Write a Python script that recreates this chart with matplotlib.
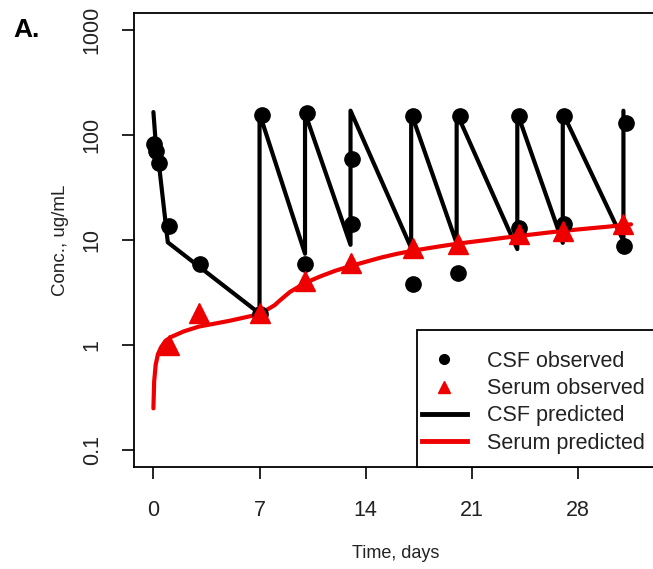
import matplotlib
matplotlib.use("Agg")
import matplotlib.pyplot as plt
from matplotlib.lines import Line2D
from matplotlib.patches import Rectangle

plt.rcParams['font.family'] = ['Liberation Sans', 'DejaVu Sans']

# observed CSF concentrations (day, ug/mL)
csf_obs_day = [0.07, 0.2, 0.4, 1.06, 3.05, 7.0, 7.15, 10.1, 10.0, 13.1, 13.1,
               17.1, 17.1, 20.25, 20.1, 24.1, 24.1, 27.05, 27.05, 31.2, 31.05]
csf_obs_conc = [82, 70, 54, 13.6, 5.9, 1.97, 155, 162, 5.9, 59, 14.2,
                152, 3.8, 152, 4.85, 152, 13, 152, 14.2, 130, 8.8]

# observed serum concentrations
serum_obs_day = [1.06, 3.0, 7.0, 10.0, 13.0, 17.1, 20.1, 24.1, 27.0, 31.0]
serum_obs_conc = [1.0, 2.0, 2.0, 4.1, 6.0, 8.4, 9.2, 11.4, 12.2, 14.2]

# predicted CSF profile
csf_pred_day = [0, 0.15, 0.35, 0.95, 7.0, 7.0, 10.0, 10.0, 13.0, 13.0, 17.0,
                17.0, 20.0, 20.0, 24.0, 24.0, 27.0, 27.0, 31.0, 31.0]
csf_pred_conc = [165, 85, 55, 9.5, 2.0, 160, 7.4, 162, 9.0, 170, 8.4,
                 162, 9.3, 162, 8.2, 162, 9.4, 162, 9.8, 170]

# predicted serum profile
serum_pred_day = [0.0, 0.05, 0.15, 0.3, 0.5, 0.8, 1.2, 2, 3, 5, 7, 8, 8.3, 9, 10,
                  11, 12, 13, 14, 15, 16, 17, 18, 19, 20, 21, 22, 23, 24, 25,
                  26, 27, 28, 29, 30, 31, 31.5]
serum_pred_conc = [0.25, 0.45, 0.65, 0.82, 0.95, 1.1, 1.2, 1.35, 1.5, 1.7, 1.97,
                   2.4, 2.63, 3.2, 3.9, 4.5, 5.1, 5.65, 6.2, 6.8, 7.35, 7.85,
                   8.3, 8.75, 9.2, 9.6, 10.0, 10.45, 10.9, 11.3, 11.75, 12.2,
                   12.6, 13.0, 13.4, 13.9, 14.1]

x_ticks = [0, 7, 14, 21, 28]
y_ticks = [0.1, 1, 10, 100, 1000]
y_tick_labels = ["0.1", "1", "10", "100", "1000"]

fig = plt.figure(figsize=(6.53, 5.69), dpi=100)
ax = fig.add_axes([134 / 653, 102 / 569, 524 / 653, 454 / 569])

ax.plot(csf_pred_day, csf_pred_conc, color="black", lw=3,
        solid_capstyle="round", solid_joinstyle="round", zorder=2)
ax.plot(serum_pred_day, serum_pred_conc, color="#ee0000", lw=3,
        solid_capstyle="round", solid_joinstyle="round", zorder=3)
ax.plot(csf_obs_day, csf_obs_conc, "o", color="black", ms=11, zorder=3.5)
ax.plot(serum_obs_day, serum_obs_conc, "^", color="#ee0000", ms=14, zorder=3.8)

ax.set_yscale("log")
ax.set_xlim(-1.28, 33.28)
ax.set_ylim(10 ** -1.16, 10 ** 3.16)
ax.set_xticks(x_ticks)
ax.set_yticks(y_ticks)
ax.set_yticklabels(y_tick_labels)
ax.minorticks_off()
ax.tick_params(length=8.5, width=1.2, labelsize=15.5, labelcolor="#222222")
ax.tick_params(axis="x", pad=15.5)
ax.tick_params(axis="y", pad=14)
for lbl in ax.get_yticklabels():
    lbl.set_rotation(90)
    lbl.set_va("center")
for s in ax.spines.values():
    s.set_linewidth(1.3)

ax.set_xlabel("Time, days", fontsize=13, labelpad=17, color="#222222")
ax.set_ylabel("Conc., ug/mL", fontsize=13.5, labelpad=9, color="#222222")

# legend box (R style, bottom right)
box = Rectangle((283 / 524, 0), 0.5, 137 / 454, transform=ax.transAxes,
                facecolor="white", edgecolor="black", lw=1.3, zorder=4,
                clip_on=False)
ax.add_patch(box)

handles = [
    Line2D([], [], ls="none", marker="o", color="black", ms=7),
    Line2D([], [], ls="none", marker="^", color="#ee0000", ms=8),
    Line2D([], [], color="black", lw=3.5),
    Line2D([], [], color="#ee0000", lw=3.5),
]
labels = ["CSF observed", "Serum observed", "CSF predicted", "Serum predicted"]
leg = ax.legend(handles, labels, loc="lower right", bbox_to_anchor=(1, 0),
                borderaxespad=0, fontsize=15.5, frameon=False,
                handlelength=2.1, handletextpad=0.93,
                labelspacing=0.29, borderpad=0.62)
leg.set_zorder(5)
for t in leg.get_texts():
    t.set_color("#222222")

fig.text(13 / 653, 1 - 37 / 569, "A.", fontsize=19, fontweight="bold")

fig.savefig("out.png", dpi=100)
